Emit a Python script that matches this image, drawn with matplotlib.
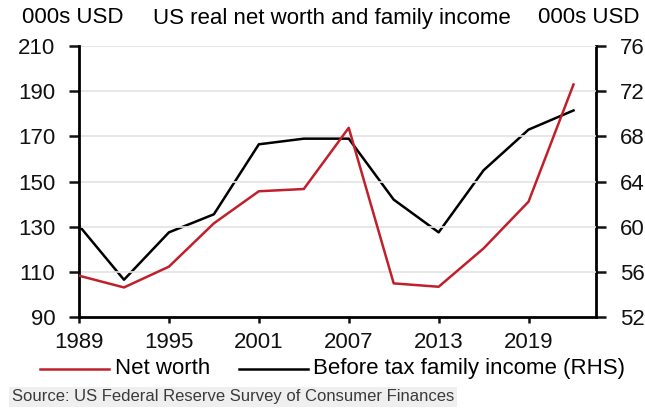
import numpy as np
import matplotlib.pyplot as plt

plt.rcParams['font.family'] = ['Liberation Sans', 'DejaVu Sans']

# survey years and values (000s USD, real)
years = [1989, 1992, 1995, 1998, 2001, 2004, 2007, 2010, 2013, 2016, 2019, 2022]
net_worth = [108.3, 103.1, 112.3, 131.5, 145.7, 146.7, 173.8, 104.9, 103.4, 120.4, 141.1, 193.0]
family_income = [60.1, 55.3, 59.5, 61.1, 67.3, 67.8, 67.8, 62.4, 59.5, 65.0, 68.6, 70.3]

left_ticks = [90, 110, 130, 150, 170, 190, 210]
right_ticks = [52, 56, 60, 64, 68, 72, 76]
x_ticks = [1989, 1995, 2001, 2007, 2013, 2019]

red = '#c0202c'
fs = 16

fig = plt.figure(figsize=(6.45, 4.08), dpi=100)
ax = fig.add_axes([0.1225, 0.223, 0.8015, 0.664])
ax2 = ax.twinx()

for y in left_ticks[1:]:
    ax.axhline(y, color='#e3e3e3', lw=1.2, zorder=0)

ax.plot(years, net_worth, color=red, lw=1.8, zorder=3)
ax2.plot(years, family_income, color='black', lw=1.8, zorder=3)

ax.set_xlim(1989, 2023.5)
ax.set_ylim(90, 210)
ax2.set_ylim(52, 76)
ax.set_yticks(left_ticks)
ax2.set_yticks(right_ticks)
ax.set_xticks(x_ticks)

for a in (ax, ax2):
    a.spines['top'].set_visible(False)
    for s in ('left', 'right', 'bottom'):
        a.spines[s].set_linewidth(2)
    a.tick_params(axis='y', labelsize=fs, width=1.8, length=7, colors='#111111', pad=10)
ax.tick_params(axis='x', labelsize=fs, width=1.8, length=4.5, colors='#111111', pad=6)
ax.spines['right'].set_visible(False)
ax2.spines['left'].set_visible(False)
ax2.spines['bottom'].set_visible(False)
ax.set_zorder(ax2.get_zorder() + 1)
ax.patch.set_visible(False)

fig.text(0.034, 0.957, '000s USD', fontsize=fs, ha='left', va='center')
fig.text(0.992, 0.957, '000s USD', fontsize=fs, ha='right', va='center')
fig.text(0.514, 0.955, 'US real net worth and family income', fontsize=fs, ha='center', va='center')

# legend drawn by hand below the axis
ly = 0.096
fig.lines.append(plt.Line2D([0.062, 0.169], [ly, ly], transform=fig.transFigure, color=red, lw=1.8))
fig.text(0.178, ly, 'Net worth', fontsize=fs, va='center')
fig.lines.append(plt.Line2D([0.3705, 0.4775], [ly, ly], transform=fig.transFigure, color='black', lw=1.8))
fig.text(0.485, ly, 'Before tax family income (RHS)', fontsize=fs, va='center')

fig.text(0.018, 0.027, 'Source: US Federal Reserve Survey of Consumer Finances', fontsize=12,
         va='center', color='#3a3a3a',
         bbox=dict(facecolor='#efefef', edgecolor='none', pad=2))

fig.savefig('out.png', dpi=100)
